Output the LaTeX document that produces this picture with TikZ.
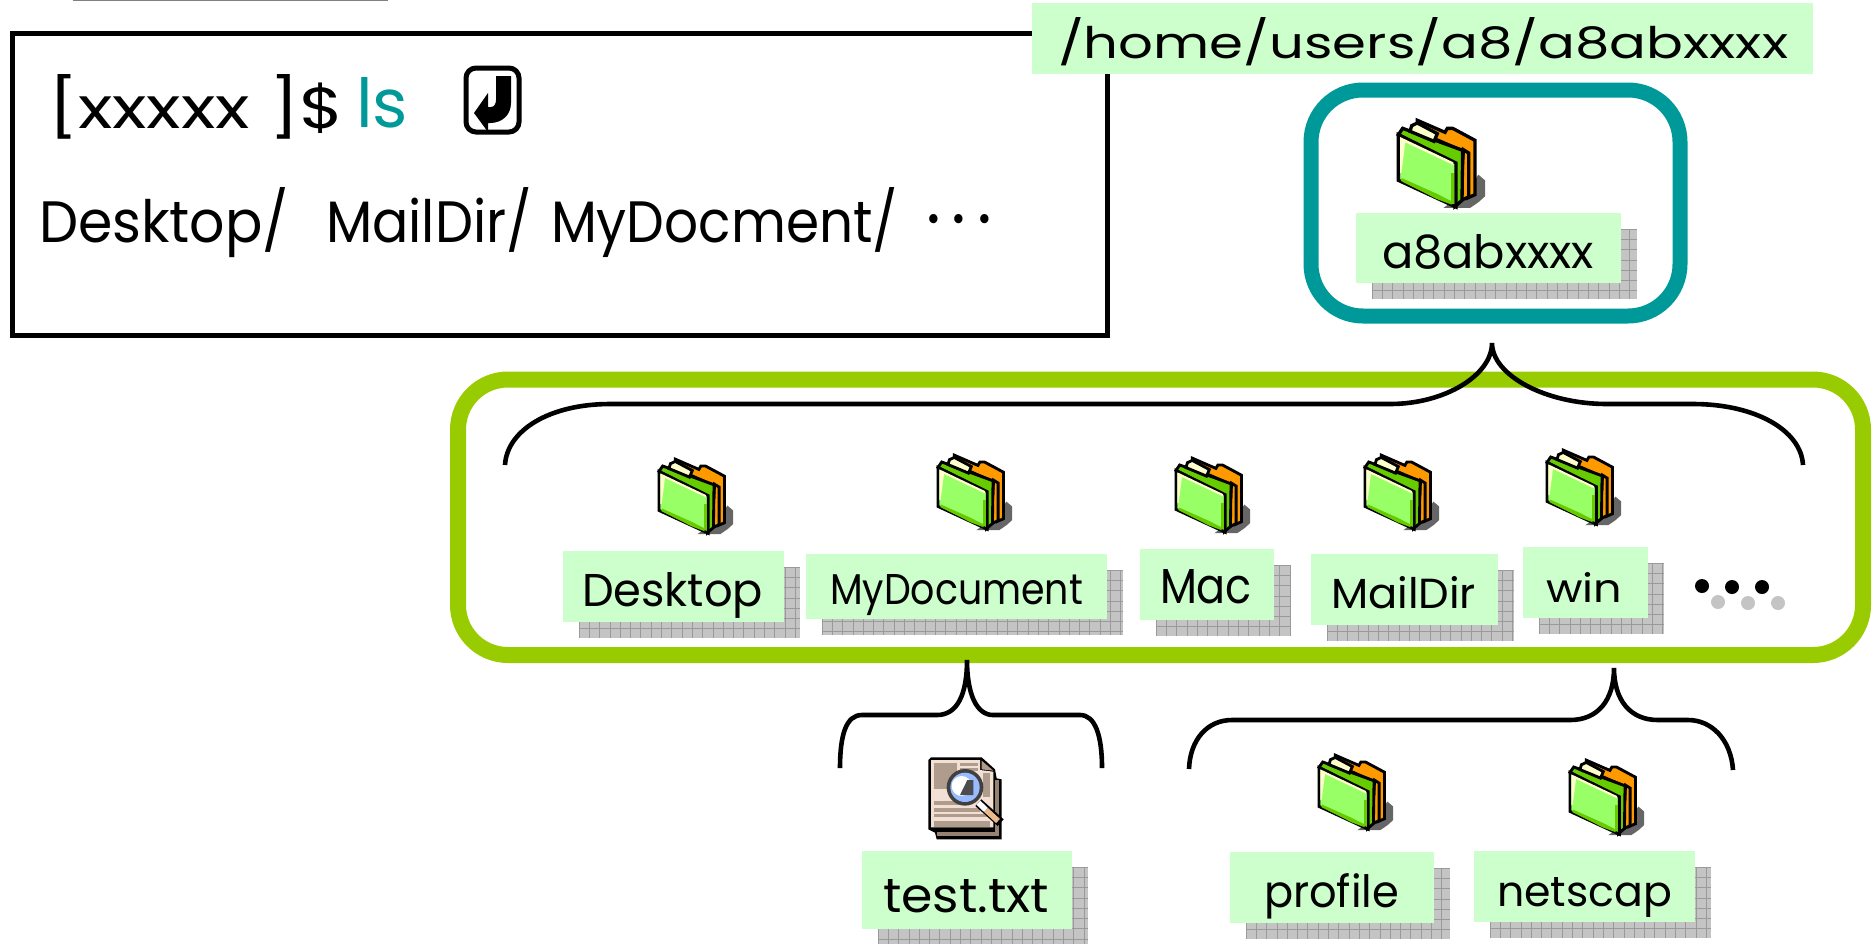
\documentclass[tikz,border=0pt]{standalone}
\usepackage{graphicx}
\usepackage{fontspec}
\setmainfont{Poppins}
\definecolor{lblgreen}{HTML}{CCFFCC}
\definecolor{tealc}{HTML}{009999}
\definecolor{limec}{HTML}{99CC00}
\definecolor{shadowc}{HTML}{C4C4C4}
\definecolor{gridc}{HTML}{9A9A9A}
\definecolor{forange}{HTML}{FF9900}
\definecolor{fgreen}{HTML}{66CC00}
\definecolor{flight}{HTML}{99FF66}
\definecolor{fcream}{HTML}{FFFFCC}
\definecolor{fshadow}{HTML}{666666}
\definecolor{paper}{HTML}{F2E0D4}
\definecolor{paperd}{HTML}{B09C8C}
\definecolor{paperb}{HTML}{968270}
\definecolor{handlec}{HTML}{EBB98A}
\definecolor{lensc}{HTML}{99BBFF}
\tikzset{
  lblbox/.style={fill=lblgreen,inner sep=0pt,outer sep=0pt},
  txt/.style={anchor=base west,inner sep=0pt,outer sep=0pt},
  bracepath/.style={draw=black,line width=2.3pt},
  tealbox/.style={draw=tealc,line width=7.5pt,rounded corners=26pt},
  limebox/.style={draw=limec,line width=8pt,rounded corners=25pt},
}
% fitted text: name, x1, x2, baseline, top, text
\newcommand\fittxt[6]{%
  \pgfmathsetlengthmacro\fw{(#3-#2)*0.5pt}%
  \pgfmathsetlengthmacro\fh{(#4-#5)*0.5pt}%
  \node[txt] (#1) at (#2,#4) {\resizebox{\fw}{\fh}{#6}};%
}
% label with grid shadow: name, x1,y1,x2,y2
\newcommand\lblbg[5]{%
  \pgfmathsetmacro\sxa{#2+16}\pgfmathsetmacro\sya{#3+16}%
  \pgfmathsetmacro\sxb{#4+16}\pgfmathsetmacro\syb{#5+16}%
  \fill[shadowc] (\sxa,\sya) rectangle (\sxb,\syb);
  \pgfmathsetmacro\sxn{\sxa+10.3}\pgfmathsetmacro\syn{\sya+10.3}%
  \foreach \gx in {\sxa,\sxn,...,\sxb} {\draw[gridc,line width=0.4pt] (\gx,\sya) -- (\gx,\syb);}
  \foreach \gy in {\sya,\syn,...,\syb} {\draw[gridc,line width=0.4pt] (\sxa,\gy) -- (\sxb,\gy);}
  \node[lblbox,minimum width={(#4-#2)*0.5pt},minimum height={(#5-#3)*0.5pt}] (#1) at ({(#2+#4)/2},{(#3+#5)/2}) {};%
}
% folder: origin x,y, scale
\newcommand\folder[3]{%
\begin{scope}[shift={(#1,#2)},scale=#3,shift={(-198,-88)}]
  \pgfmathsetmacro\flw{10*#3*0.5}
  \tikzset{fl/.style={draw=black,line width=\flw pt,line join=miter}}
  \fill[fshadow] (340,355)--(420,355)--(445,338)--(465,320)--(465,272)--(445,255)--(415,300)--cycle;
  \filldraw[fl,fill=forange] (262,92)--(345,128)--(352,116)--(368,116)--(435,152)--(435,315)--(412,325)--(412,190)--(262,125)--cycle;
  \filldraw[fl,fill=forange] (400,180)--(416,190)--(416,322)--(392,332)--cycle;
  \filldraw[fl,fill=fgreen] (218,116)--(398,182)--(396,332)--(375,350)--(375,222)--(205,135)--cycle;
  \filldraw[fl,fill=fcream] (245,108)--(262,100)--(322,132)--(312,155)--(240,125)--cycle;
  \filldraw[fl,fill=flight] (205,135)--(378,220)--(378,352)--(205,272)--cycle;
  \fill[fcream] (210,142)--(370,218)--(370,226)--(226,158)--(214,250)--(210,250)--cycle;
  \fill[fgreen] (215,265)--(320,312)--(365,335)--(365,345)--(320,328)--(213,274)--cycle;
  \fill[fgreen] (362,250)--(372,250)--(372,342)--(362,342)--cycle;
\end{scope}}
\begin{document}
\begin{tikzpicture}[x=0.5pt,y=-0.5pt]
\useasboundingbox (0,0) rectangle (1872,943);
% top stub line
\draw[draw=gray,line width=0.6pt] (73,0.5) -- (388,0.5);
% terminal box
\node[draw=black,line width=2.5pt,inner sep=0pt,minimum width={1095*0.5pt},minimum height={302*0.5pt}] (term) at (560,184.5) {};
\fittxt{prompt}{48}{344}{128}{74}{[xxxxx ]\$}
\fittxt{lscmd}{356}{408}{127}{77}{\color{tealc}ls}
\fittxt{dsk}{39}{289}{242}{187}{Desktop/}
\fittxt{mld}{326}{532}{242}{187}{MailDir/}
\fittxt{mdc}{551}{898}{242}{187}{MyDocment/}
\fittxt{dots}{926}{992}{244}{214}{·\,·\,·}
% return key
\node[draw=black,line width=2.5pt,rounded corners=5pt,inner sep=0pt,minimum width={53*0.5pt},minimum height={64*0.5pt}] (retkey) at (492.5,100) {};
\fill[black] (496,76)--(511,76)--(511,103) .. controls (511,115) and (502,123) .. (490,123) -- (488,123)--(488,132)--(474,113)--(488,93)--(488,107)--(491,107) .. controls (494,107) and (496,104) .. (496,100) --cycle;
% path label
\node[lblbox,minimum width={781*0.5pt},minimum height={71*0.5pt}] (pathbox) at (1422.5,38.5) {};
\fittxt{pathtxt}{1058}{1788}{58}{17}{/home/users/a8/a8abxxxx}
% teal box
\node[tealbox,minimum width={369*0.5pt},minimum height={226*0.5pt},inner sep=0pt] (tealframe) at (1495.5,203) {};
\folder{1396}{119}{0.3333}
\lblbg{lblroot}{1356}{213}{1621}{283}
\fittxt{roottxt}{1382}{1594}{268}{234}{a8abxxxx}
% lime box
\node[limebox,minimum width={1405*0.5pt},minimum height={275.5*0.5pt},inner sep=0pt] (limeframe) at (1160.5,517.25) {};
\folder{657}{458}{0.285}
\folder{936}{454}{0.285}
\folder{1174}{457}{0.285}
\folder{1363}{454}{0.285}
\folder{1545}{449}{0.285}
\lblbg{lbldesk}{563}{551}{784}{622}
\fittxt{desktxt}{582}{763}{606}{572}{Desktop}
\lblbg{lbldoc}{806}{554}{1107}{619}
\fittxt{doctxt}{830}{1083}{604}{574}{MyDocument}
\lblbg{lblmac}{1140}{549}{1274}{620}
\fittxt{mactxt}{1160}{1252}{603}{569}{Mac}
\lblbg{lblmail}{1311}{554}{1498}{625}
\fittxt{mailtxt}{1331}{1476}{608}{576}{MailDir}
\lblbg{lblwin}{1523}{547}{1648}{618}
\fittxt{wintxt}{1546}{1622}{602}{572}{win}
% more dots
\foreach \dx/\dy in {1718/602,1748/603,1778/603} {\fill[shadowc] (\dx,\dy) circle[radius=7];}
\foreach \dx/\dy in {1702/586,1732/587,1762/587} {\fill[black] (\dx,\dy) circle[radius=7];}
% braces
\draw[bracepath] (505,465) .. controls (507,430) and (550,404) .. (610,404) -- (1390,404) .. controls (1445,404) and (1492,375) .. (1492,343) .. controls (1492,375) and (1545,404) .. (1607,404) -- (1693,404) .. controls (1755,404) and (1801,430) .. (1803,465);
\draw[bracepath] (840,768) .. controls (840,735) and (846,715) .. (862,715) -- (937,715) .. controls (957,715) and (967,695) .. (967,660) .. controls (967,695) and (977,715) .. (993,715) -- (1080,715) .. controls (1095,715) and (1102,735) .. (1102,768);
\draw[bracepath] (1189,769) .. controls (1190,740) and (1207,720) .. (1232,720) -- (1570,720) .. controls (1598,720) and (1614,700) .. (1614,668) .. controls (1614,700) and (1630,720) .. (1658,720) -- (1688,720) .. controls (1712,720) and (1731,740) .. (1733,770);
% test doc icon
\begin{scope}[shift={(880,730)},scale=0.3333]
  \fill[black] (145,90)--(153,82)--(305,82)--(345,118)--(350,145)--(365,148)--(365,328)--(170,328)--(165,308)--(145,298)--cycle;
  \fill[paperb] (172,305)--(358,305)--(358,318)--(172,318)--cycle;
  \fill[paperb] (345,150)--(358,150)--(358,305)--(345,305)--cycle;
  \fill[paper] (153,90)--(300,90)--(300,120)--(340,125)--(340,292)--(153,292)--cycle;
  \fill[paperd] (305,92)--(340,122)--(305,118)--cycle;
  \fill[paperd] (162,98) rectangle (232,165);
  \fill[paperd] (240,100) rectangle (295,108);
  \fill[paperd] (240,115) rectangle (295,122);
  \fill[paperd] (162,165) rectangle (215,177);
  \fill[paperd] (162,212) rectangle (260,224);
  \fill[paperd] (162,235) rectangle (300,245);
  \fill[paperd] (162,252) rectangle (330,262);
  \fill[paperd] (162,272) rectangle (330,290);
  \fill[paperd] (310,130) rectangle (330,200);
  \draw[black,line width=4.5pt] (295,218) -- (362,278);
  \draw[white,line width=2.8pt] (295,218) -- (318,240);
  \draw[handlec,line width=2.8pt] (318,240) -- (354,273);
  \fill[black!75] (255,172) circle[radius=55];
  \fill[lensc] (255,172) circle[radius=44];
  \fill[white] (245,168) circle[radius=30];
  \fill[black!70] (240,195)--(280,195)--(280,150)--(262,150)--cycle;
\end{scope}
\lblbg{lbltest}{862}{851}{1072}{929}
\fittxt{testtxt}{883}{1049}{912}{879}{test.txt}
% sub folders
\folder{1317}{754}{0.285}
\folder{1568}{759}{0.285}
\lblbg{lblprof}{1230}{852}{1434}{923}
\fittxt{proftxt}{1264}{1399}{907}{873}{profile}
\lblbg{lblnet}{1474}{851}{1695}{922}
\fittxt{nettxt}{1497}{1672}{906}{877}{netscap}
\end{tikzpicture}
\end{document}
